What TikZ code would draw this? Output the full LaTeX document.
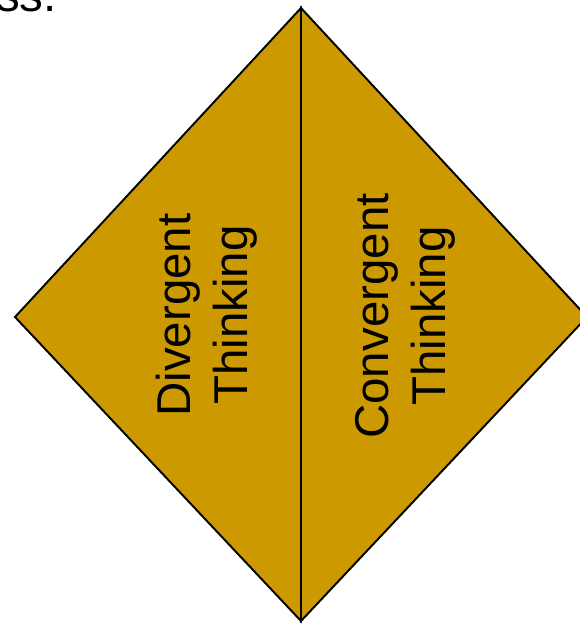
\documentclass[tikz,border=0pt]{standalone}
\usepackage{fontspec}
\setmainfont{Liberation Sans}
\definecolor{thinkgold}{HTML}{CC9900}

\begin{document}
\begin{tikzpicture}[x=0.02cm, y=-0.02cm, font=\fontsize{27}{32.4}\selectfont,
  half/.style={draw, fill=thinkgold, line width=1.1pt},
  thinktext/.style={rotate=90, align=center, inner sep=0pt}]
  \useasboundingbox (0,0) rectangle (580,624);
  \coordinate (top) at (301,8);
  \coordinate (bottom) at (301,621);
  \coordinate (west) at (15,317);
  \coordinate (east) at (587,317);
  \filldraw[half] (top) -- (west) -- (bottom) -- cycle;
  \filldraw[half] (top) -- (east) -- (bottom) -- cycle;
  \node[thinktext] (div) at (207,315) {Divergent\\Thinking};
  \node[thinktext] (conv) at (405,316) {Convergent\\Thinking};
  \node[anchor=base east, inner sep=0pt] (tail) at (57,12) {ss.};
\end{tikzpicture}
\end{document}
